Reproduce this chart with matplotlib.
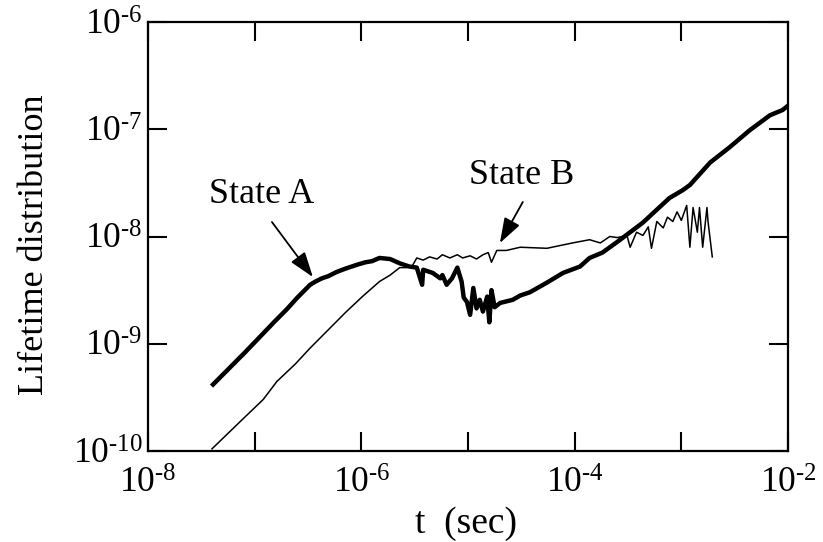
import numpy as np
import matplotlib
matplotlib.use("Agg")
import matplotlib.pyplot as plt
from matplotlib.ticker import FixedLocator, FixedFormatter, NullLocator

plt.rcParams['font.family'] = ['Liberation Serif', 'DejaVu Serif']
plt.rcParams['mathtext.fontset'] = 'custom'
plt.rcParams['mathtext.rm'] = 'Liberation Serif'

# log10(t) and log10(lifetime distribution)
state_a_logt = [-7.39, -7.09, -6.81, -6.70, -6.60, -6.53, -6.48, -6.43, -6.37, -6.31,
                -6.23, -6.15, -6.09, -6.03, -5.96, -5.90, -5.83,
                -5.73, -5.64, -5.55, -5.48, -5.43, -5.42, -5.33, -5.26, -5.24, -5.20,
                -5.15, -5.10, -5.06, -5.04, -5.01, -4.98, -4.95, -4.92, -4.89, -4.86,
                -4.82, -4.80, -4.78, -4.75, -4.70, -4.58, -4.51, -4.42, -4.26, -4.11,
                -3.95, -3.86, -3.74, -3.60, -3.48, -3.36, -3.23, -3.11, -2.99, -2.92,
                -2.73, -2.55, -2.36, -2.17, -2.05, -2.00]
state_a_logy = [-9.38, -9.08, -8.79, -8.68, -8.57, -8.50, -8.45, -8.42, -8.39, -8.37,
                -8.33, -8.30, -8.28, -8.26, -8.24, -8.23, -8.20,
                -8.21, -8.25, -8.28, -8.29, -8.45, -8.31, -8.34, -8.39, -8.36, -8.45,
                -8.39, -8.29, -8.42, -8.57, -8.61, -8.73, -8.48, -8.67, -8.59, -8.70,
                -8.56, -8.80, -8.50, -8.66, -8.62, -8.59, -8.55, -8.52, -8.43, -8.34,
                -8.28, -8.20, -8.15, -8.05, -7.96, -7.87, -7.75, -7.64, -7.57, -7.52,
                -7.31, -7.17, -7.01, -6.87, -6.82, -6.78]

state_b_logt = [-7.40, -7.14, -6.92, -6.79, -6.62, -6.48, -6.31, -6.15, -5.99, -5.83,
                -5.73, -5.64, -5.57, -5.52, -5.48, -5.42, -5.36, -5.29, -5.24, -5.17,
                -5.10, -5.05, -4.98, -4.92, -4.86, -4.81, -4.78, -4.73, -4.64, -4.51,
                -4.26, -4.02, -3.86, -3.76, -3.67, -3.60, -3.51, -3.48, -3.42, -3.36,
                -3.31, -3.28, -3.23, -3.17, -3.13, -3.08, -3.04, -3.00, -2.95, -2.92,
                -2.89, -2.85, -2.83, -2.80, -2.76, -2.75, -2.71]
state_b_logy = [-9.98, -9.73, -9.52, -9.35, -9.19, -9.04, -8.87, -8.71, -8.56, -8.42,
                -8.36, -8.29, -8.29, -8.27, -8.20, -8.22, -8.19, -8.21, -8.17, -8.20,
                -8.17, -8.20, -8.18, -8.21, -8.17, -8.15, -8.24, -8.13, -8.13, -8.10,
                -8.11, -8.06, -8.03, -8.06, -8.00, -8.01, -7.99, -8.10, -7.96, -7.99,
                -7.91, -8.11, -7.86, -7.92, -7.82, -7.86, -7.77, -7.85, -7.71, -8.10,
                -7.73, -7.96, -7.73, -8.10, -7.73, -7.86, -8.19]

xtick_exps = [-8, -7, -6, -5, -4, -3, -2]
xlabel_exps = [-8, -6, -4, -2]
ytick_exps = [-10, -9, -8, -7, -6]


def sup(e):
    return r'$\mathregular{10^{\text{-%d}}}$' % abs(e)


fig = plt.figure(figsize=(8.23, 5.42), dpi=100)
ax = fig.add_axes([0.1798, 0.1679, 0.7777, 0.7915])

ax.plot(10.0 ** np.array(state_a_logt), 10.0 ** np.array(state_a_logy),
        color='black', lw=3.2, solid_joinstyle='round')
ax.plot(10.0 ** np.array(state_b_logt), 10.0 ** np.array(state_b_logy),
        color='black', lw=1.1)

ax.set_xscale('log')
ax.set_yscale('log')
ax.set_xlim(1e-8, 1e-2)
ax.set_ylim(1e-10, 1e-6)

ax.xaxis.set_major_locator(FixedLocator([10.0 ** e for e in xtick_exps]))
ax.xaxis.set_major_formatter(FixedFormatter(
    [sup(e) if e in xlabel_exps else '' for e in xtick_exps]))
ax.yaxis.set_major_locator(FixedLocator([10.0 ** e for e in ytick_exps]))
ax.yaxis.set_major_formatter(FixedFormatter([sup(e) for e in ytick_exps]))
ax.xaxis.set_minor_locator(NullLocator())
ax.yaxis.set_minor_locator(NullLocator())

ax.tick_params(which='major', direction='in', length=14, width=1.5,
               top=True, right=True, labelsize=25.5)
ax.tick_params(axis='x', pad=12)
ax.tick_params(axis='y', pad=4)
for s in ax.spines.values():
    s.set_linewidth(1.6)

ax.set_xlabel('t  (sec)', fontsize=27)
ax.set_ylabel('Lifetime distribution', fontsize=26)
ax.xaxis.set_label_coords(0.497, -0.13)
ax.yaxis.set_label_coords(-0.152, 0.48)

arrow = dict(arrowstyle='-|>,head_length=0.7,head_width=0.24', color='black',
             lw=1.3, mutation_scale=22, shrinkA=0, shrinkB=0)
ax.text(10 ** -6.93, 10 ** -7.61, 'State A', fontsize=26, ha='center', va='center')
ax.annotate('', xy=(10 ** -6.454, 10 ** -8.378), xytext=(10 ** -6.838, 10 ** -7.865),
            arrowprops=arrow)
ax.text(10 ** -4.495, 10 ** -7.43, 'State B', fontsize=26, ha='center', va='center')
ax.annotate('', xy=(10 ** -4.701, 10 ** -8.061), xytext=(10 ** -4.486, 10 ** -7.678),
            arrowprops=arrow)

fig.savefig('out.png', dpi=100)
